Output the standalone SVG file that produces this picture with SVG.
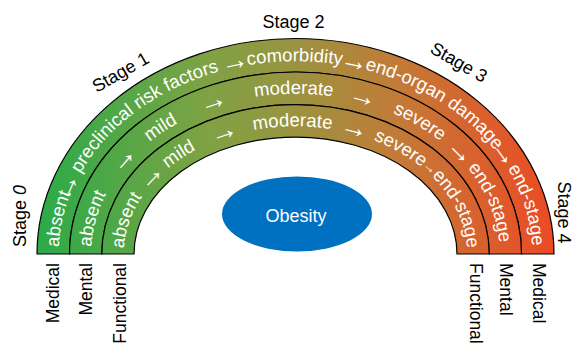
<svg xmlns="http://www.w3.org/2000/svg" width="582" height="345" viewBox="0 0 582 345">
<style>
.band{fill:url(#grad);stroke:#000;stroke-width:1.2}
.w{font-family:"Liberation Sans",Arial,sans-serif;font-size:18.5px;fill:#fff}
.a{font-family:"Liberation Sans",Arial,sans-serif;font-size:28px;fill:#fff;text-anchor:middle}
.m{text-anchor:middle}
.k{font-family:"Liberation Sans",Arial,sans-serif;font-size:18px;fill:#000}
.d{font-family:"Liberation Sans",Arial,sans-serif;font-size:17.5px;fill:#000}
</style>
<defs>
<linearGradient id="grad" gradientUnits="userSpaceOnUse" x1="37" y1="0" x2="554" y2="0">
<stop offset="0" stop-color="#2AAB48"/>
<stop offset="0.33" stop-color="#7FA244"/>
<stop offset="0.5" stop-color="#9A9340"/>
<stop offset="0.7" stop-color="#C37A37"/>
<stop offset="1" stop-color="#EC4A24"/>
</linearGradient>
<path id="o1" d="M58.89,247.27 A236.75,192.75 0 0 1 177.13,87.07"/>
<path id="o2" d="M62.14,221.52 A236.75,192.75 0 0 1 89.85,158.50"/>
<path id="o3" d="M80.24,173.76 A236.75,192.75 0 0 1 336.61,64.18"/>
<path id="o4" d="M196.57,78.88 A236.75,192.75 0 0 1 276.10,61.90"/>
<path id="o5" d="M176.41,87.41 A236.75,192.75 0 0 1 413.16,86.74"/>
<path id="o6" d="M312.84,61.77 A236.75,192.75 0 0 1 392.55,78.19"/>
<path id="o7" d="M364.72,69.67 A236.75,192.75 0 0 1 532.24,252.32"/>
<path id="o8" d="M476.59,129.85 A236.75,192.75 0 0 1 517.83,187.76"/>
<path id="o9" d="M507.56,168.30 A236.75,192.75 0 0 1 532.25,253.66"/>
<path id="m1" d="M91.44,247.01 A204.25,160.25 0 0 1 193.38,115.22"/>
<path id="m2" d="M106.53,193.19 A204.25,160.25 0 0 1 154.39,138.14"/>
<path id="m3" d="M128.80,161.40 A204.25,160.25 0 0 1 203.73,110.84"/>
<path id="m4" d="M176.89,123.54 A204.25,160.25 0 0 1 254.78,96.97"/>
<path id="m5" d="M237.49,100.35 A204.25,160.25 0 0 1 350.08,99.58"/>
<path id="m6" d="M320.39,94.94 A204.25,160.25 0 0 1 400.70,116.64"/>
<path id="m7" d="M378.58,107.60 A204.25,160.25 0 0 1 451.96,150.99"/>
<path id="m8" d="M427.88,131.96 A204.25,160.25 0 0 1 479.70,184.77"/>
<path id="m9" d="M467.76,167.90 A204.25,160.25 0 0 1 499.75,253.72"/>
<path id="i1" d="M123.91,248.43 A171.75,127.75 0 0 1 209.63,143.37"/>
<path id="i2" d="M137.06,204.70 A171.75,127.75 0 0 1 177.71,161.03"/>
<path id="i3" d="M151.30,184.61 A171.75,127.75 0 0 1 217.26,140.28"/>
<path id="i4" d="M193.82,151.04 A171.75,127.75 0 0 1 258.91,129.18"/>
<path id="i5" d="M239.58,133.21 A171.75,127.75 0 0 1 345.71,131.83"/>
<path id="i6" d="M318.51,127.40 A171.75,127.75 0 0 1 385.75,145.31"/>
<path id="i7" d="M363.44,136.67 A171.75,127.75 0 0 1 429.54,174.13"/>
<path id="i8" d="M409.98,158.76 A171.75,127.75 0 0 1 440.83,185.92"/>
<path id="i9" d="M431.58,176.05 A171.75,127.75 0 0 1 467.25,253.78"/>
</defs>
<rect width="582" height="345" fill="#fff"/>

<g id="band-medical">
<path class="band" d="M37,254 A258.5,215.5 0 0 1 554,254 L521.5,254 A226,182 0 0 0 69.5,254 Z"/>
<text class="w"><textPath href="#o1">absent</textPath></text>
<text class="a" dy="2.5"><textPath href="#o2" startOffset="50%">→</textPath></text>
<text class="w"><textPath href="#o3">preclinical risk factors</textPath></text>
<text class="a" dy="2.5"><textPath href="#o4" startOffset="50%">→</textPath></text>
<text class="w m"><textPath href="#o5" startOffset="50%">comorbidity</textPath></text>
<text class="a" dy="2.5"><textPath href="#o6" startOffset="50%">→</textPath></text>
<text class="w"><textPath href="#o7">end-organ damage</textPath></text>
<text class="a" dy="2.5"><textPath href="#o8" startOffset="50%">→</textPath></text>
<text class="w"><textPath href="#o9">end-stage</textPath></text>
</g>

<g id="band-mental">
<path class="band" d="M69.5,254 A226,182 0 0 1 521.5,254 L489.2,254 A193.7,149.5 0 0 0 101.8,254 Z"/>
<text class="w"><textPath href="#m1">absent</textPath></text>
<text class="a" dy="2.5"><textPath href="#m2" startOffset="50%">→</textPath></text>
<text class="w m"><textPath href="#m3" startOffset="50%">mild</textPath></text>
<text class="a" dy="2.5"><textPath href="#m4" startOffset="50%">→</textPath></text>
<text class="w m"><textPath href="#m5" startOffset="50%">moderate</textPath></text>
<text class="a" dy="2.5"><textPath href="#m6" startOffset="50%">→</textPath></text>
<text class="w m"><textPath href="#m7" startOffset="50%">severe</textPath></text>
<text class="a" dy="2.5"><textPath href="#m8" startOffset="50%">→</textPath></text>
<text class="w"><textPath href="#m9">end-stage</textPath></text>
</g>

<g id="band-functional">
<path class="band" d="M101.8,254 A193.7,149.5 0 0 1 489.2,254 L457,254 A161.5,117 0 0 0 134,254 Z"/>
<text class="w"><textPath href="#i1">absent</textPath></text>
<text class="a" dy="2.5"><textPath href="#i2" startOffset="50%">→</textPath></text>
<text class="w m"><textPath href="#i3" startOffset="50%">mild</textPath></text>
<text class="a" dy="2.5"><textPath href="#i4" startOffset="50%">→</textPath></text>
<text class="w m"><textPath href="#i5" startOffset="50%">moderate</textPath></text>
<text class="a" dy="2.5"><textPath href="#i6" startOffset="50%">→</textPath></text>
<text class="w m"><textPath href="#i7" startOffset="50%">severe</textPath></text>
<text class="a" style="font-size:14px" dy="-1"><textPath href="#i8" startOffset="50%">→</textPath></text>
<text class="w"><textPath href="#i9">end-stage</textPath></text>
</g>

<g id="obesity">
<ellipse cx="297" cy="214" rx="75" ry="37.5" fill="#0070C0"/>
<text class="w m" x="296" y="221.5" style="font-size:18px">Obesity</text>
</g>

<g id="stage-labels">
<text class="k" transform="translate(25.5,247) rotate(-90)">Stage <tspan font-style="italic">0</tspan></text>
<text class="k m" transform="translate(123.5,77.6) rotate(-30)">Stage 1</text>
<text class="k m" x="293.5" y="27.5">Stage 2</text>
<text class="k m" transform="translate(455.8,67.6) rotate(30)">Stage 3</text>
<text class="k" transform="translate(558,181.5) rotate(90)">Stage 4</text>
</g>

<g id="dimension-labels">
<text class="d" text-anchor="end" transform="translate(59,263) rotate(-90)">Medical</text>
<text class="d" text-anchor="end" transform="translate(91.5,263) rotate(-90)">Mental</text>
<text class="d" text-anchor="end" transform="translate(126,263) rotate(-90)">Functional</text>
<text class="d" transform="translate(470,263) rotate(90)">Functional</text>
<text class="d" transform="translate(500,263) rotate(90)">Mental</text>
<text class="d" transform="translate(533,263) rotate(90)">Medical</text>
</g>
</svg>
